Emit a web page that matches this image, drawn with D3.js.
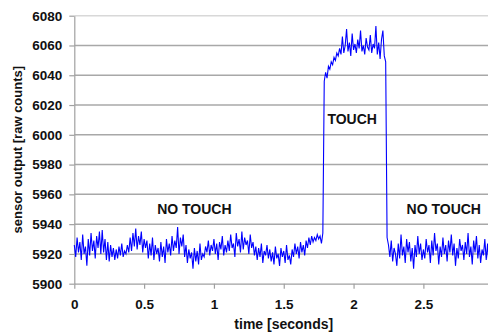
<!DOCTYPE html>
<html>
<head>
<meta charset="utf-8">
<script src="https://cdn.jsdelivr.net/npm/d3@7"></script>
<style>
  html, body { margin: 0; padding: 0; background: #fff; }
  svg { display: block; }
  text { font-family: "Liberation Sans", Arial, sans-serif; }
</style>
</head>
<body>
<svg id="chart" width="488" height="335"></svg>
<script>
// sampled every 10 ms, starting at t = 0
const sampleStep = 0.01;
const sensorCounts = [
  5926, 5918, 5931, 5921, 5928, 5916, 5933, 5920, 5925, 5912,
  5930, 5919, 5934, 5922, 5929, 5917, 5932, 5924, 5935, 5920,
  5936, 5921, 5930, 5916, 5928, 5915, 5926, 5918, 5924, 5916,
  5923, 5917, 5925, 5919, 5927, 5918, 5922, 5920, 5926, 5921,
  5931, 5922, 5934, 5925, 5937, 5923, 5932, 5926, 5935, 5921,
  5930, 5924, 5929, 5917, 5927, 5919, 5931, 5916, 5926, 5920,
  5924, 5915, 5928, 5918, 5925, 5914, 5930, 5921, 5927, 5919,
  5932, 5922, 5929, 5924, 5938, 5920, 5931, 5925, 5933, 5918,
  5926, 5914, 5923, 5917, 5921, 5910, 5924, 5915, 5922, 5913,
  5927, 5916, 5920, 5918, 5925, 5921, 5929, 5919, 5926, 5922,
  5930, 5920, 5927, 5916, 5928, 5923, 5932, 5919, 5926, 5921,
  5929, 5922, 5933, 5924, 5927, 5918, 5934, 5925, 5930, 5921,
  5935, 5923, 5931, 5926, 5929, 5920, 5933, 5924, 5928, 5919,
  5925, 5916, 5924, 5918, 5927, 5914, 5922, 5919, 5926, 5917,
  5923, 5915, 5921, 5913, 5925, 5917, 5920, 5912, 5924, 5918,
  5922, 5914, 5926, 5916, 5919, 5913, 5923, 5918, 5927, 5920,
  5925, 5917, 5928, 5921, 5926, 5919, 5929, 5924, 5931, 5926,
  5932, 5928, 5931, 5929, 5933, 5930, 5932, 5927, 5934, 6036,
  6042, 6038, 6046, 6044, 6049, 6047, 6052, 6050, 6055, 6053,
  6058, 6054, 6066, 6055, 6060, 6071, 6056, 6062, 6053, 6068,
  6057, 6061, 6055, 6064, 6058, 6070, 6056, 6060, 6054, 6065,
  6059, 6057, 6067, 6055, 6061, 6058, 6073, 6054, 6062, 6051,
  6064, 6070, 6053, 6049, 5931, 5926, 5918, 5929, 5915, 5924,
  5920, 5912, 5927, 5917, 5933, 5919, 5925, 5914, 5930, 5921,
  5928, 5915, 5924, 5910, 5926, 5918, 5932, 5920, 5927, 5916,
  5923, 5917, 5930, 5921, 5926, 5914, 5929, 5919, 5934, 5922,
  5927, 5913, 5925, 5918, 5931, 5920, 5926, 5915, 5929, 5921,
  5933, 5919, 5927, 5912, 5924, 5917, 5930, 5922, 5926, 5916,
  5928, 5920, 5934, 5918, 5925, 5913, 5929, 5921, 5932, 5917,
  5926, 5914, 5923, 5919, 5930, 5916, 5927, 5911, 5924, 5920, 5925
];

const yTicks = [5900, 5920, 5940, 5960, 5980, 6000, 6020, 6040, 6060, 6080];
const xTicks = [0, 0.5, 1, 1.5, 2, 2.5, 3];
const annotations = [
  { label: "NO TOUCH", t: 0.86, v: 5947 },
  { label: "TOUCH", t: 1.99, v: 6007 },
  { label: "NO TOUCH", t: 2.646, v: 5947 }
];

const svg = d3.select("#chart");

// plot area (right side runs past the window, like the original crop)
const plotLeft = 74.3, plotRight = 493.2, plotTop = 15.7, plotBottom = 283.7;

const x = d3.scaleLinear().domain([0, 3]).range([plotLeft, plotRight]);
const y = d3.scaleLinear().domain([5900, 6080]).range([plotBottom, plotTop]);

// horizontal grid lines
svg.append("g")
  .selectAll("line")
  .data(yTicks.filter(d => d > 5900))
  .join("line")
  .attr("x1", plotLeft)
  .attr("x2", plotRight)
  .attr("y1", d => y(d))
  .attr("y2", d => y(d))
  .attr("stroke", d => d === 6080 ? "#d8d8d8" : "#a8a8a8")
  .attr("stroke-width", 1.5);

// y axis
const yAxis = svg.append("g")
  .attr("transform", `translate(${plotLeft},0)`)
  .call(d3.axisLeft(y).tickValues(yTicks).tickFormat(d3.format("d")).tickSize(5).tickSizeOuter(0).tickPadding(7));

// x axis
const xAxis = svg.append("g")
  .attr("transform", `translate(0,${plotBottom})`)
  .call(d3.axisBottom(x).tickValues(xTicks).tickFormat(d3.format("")).tickSize(5).tickSizeOuter(0).tickPadding(11));

[yAxis, xAxis].forEach(g => {
  g.select(".domain").attr("stroke", "#a0a0a0").attr("stroke-width", 1.2);
  g.selectAll(".tick line").attr("stroke", "#a0a0a0").attr("stroke-width", 1.2);
  g.selectAll(".tick text")
    .attr("fill", "#111")
    .style("font-size", "13.5px")
    .style("font-weight", "bold")
    .style("font-family", "'Liberation Sans', Arial, sans-serif");
});

// the signal
const line = d3.line()
  .x((d, i) => x(i * sampleStep))
  .y(d => y(d));

svg.append("path")
  .datum(sensorCounts)
  .attr("fill", "none")
  .attr("stroke", "#0000ff")
  .attr("stroke-width", 1.1)
  .attr("d", line);

// region labels
svg.append("g")
  .selectAll("text")
  .data(annotations)
  .join("text")
  .attr("x", d => x(d.t))
  .attr("y", d => y(d.v))
  .attr("text-anchor", "middle")
  .attr("fill", "#111")
  .style("font-size", "14px")
  .style("font-weight", "bold")
  .text(d => d.label);

// axis titles
svg.append("text")
  .attr("x", (plotLeft + plotRight) / 2)
  .attr("y", 329)
  .attr("text-anchor", "middle")
  .attr("fill", "#111")
  .style("font-size", "14px")
  .style("font-weight", "bold")
  .text("time [seconds]");

svg.append("text")
  .attr("transform", `translate(22,${(plotTop + plotBottom) / 2}) rotate(-90)`)
  .attr("text-anchor", "middle")
  .attr("fill", "#111")
  .style("font-size", "13px")
  .style("font-weight", "bold")
  .text("sensor output [raw counts]");
</script>
</body>
</html>
